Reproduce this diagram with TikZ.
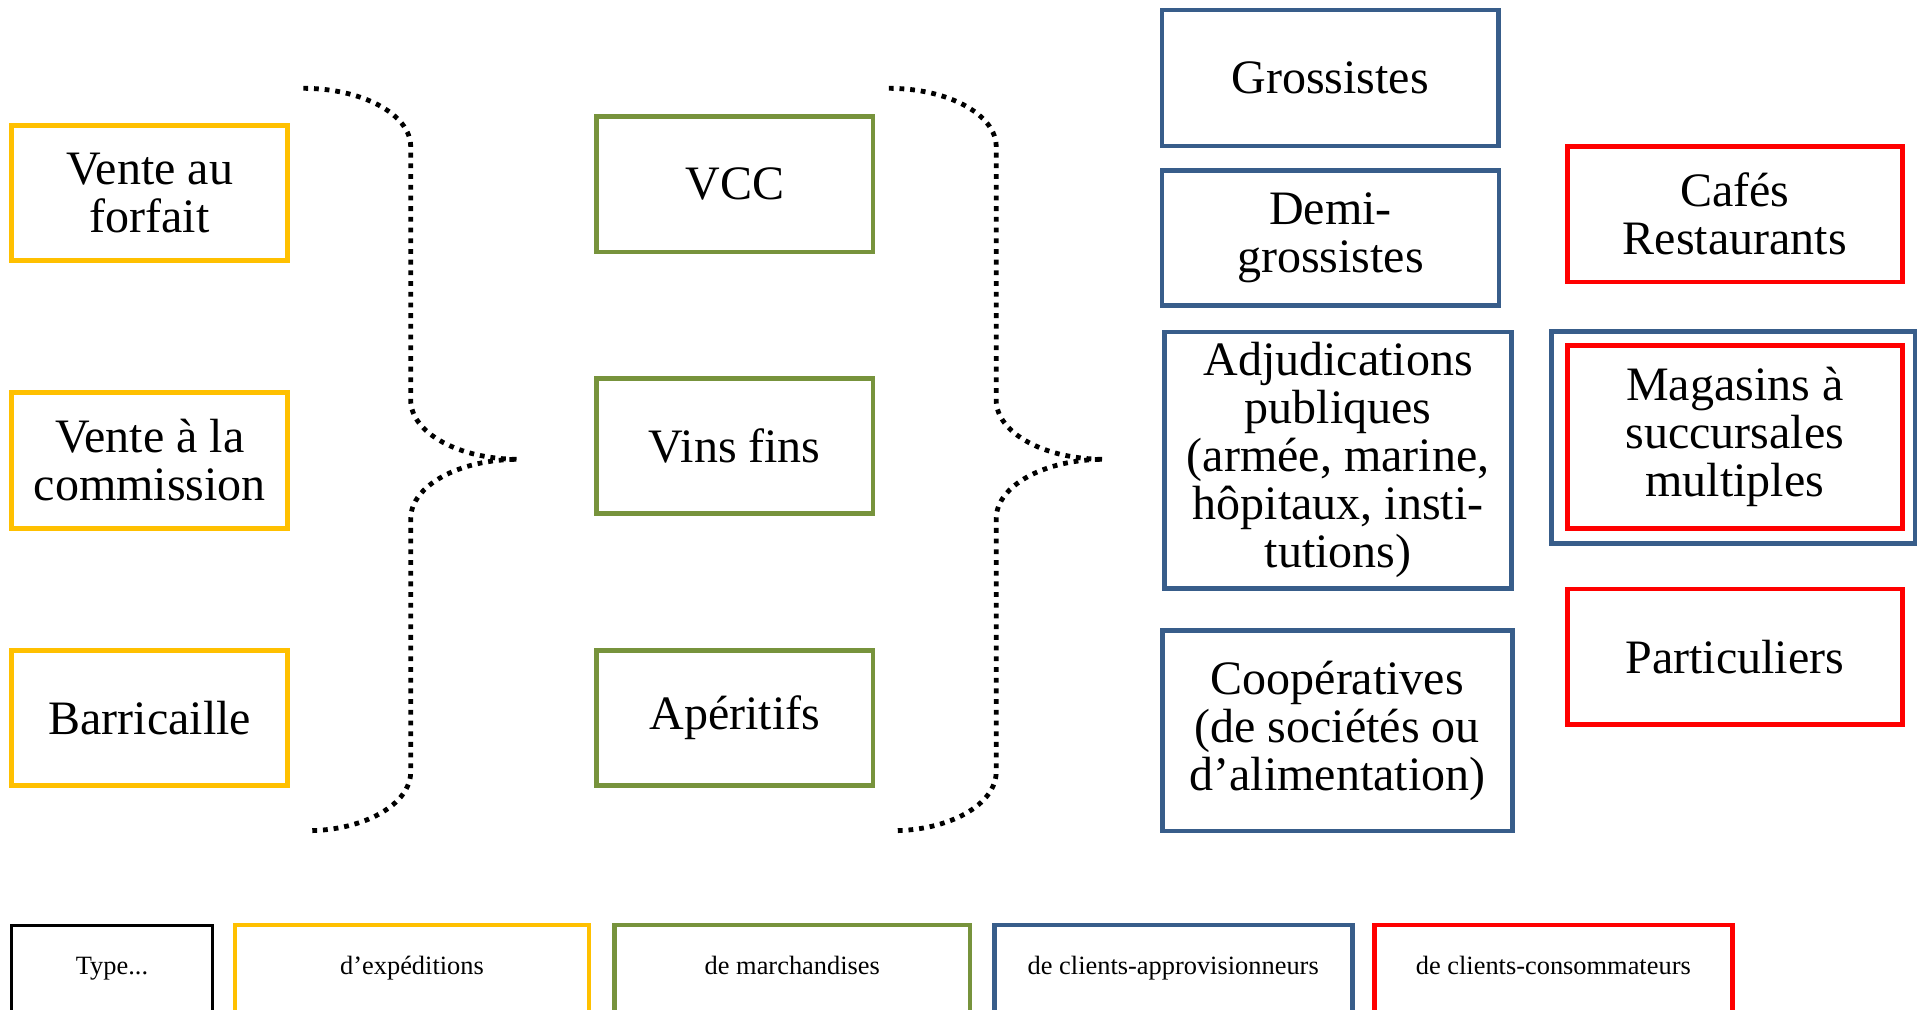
\documentclass[tikz,border=0pt]{standalone}
\usepackage{fontspec}
\setmainfont{Liberation Serif}
\definecolor{expcol}{HTML}{FFC000}
\definecolor{marcol}{HTML}{77933C}
\definecolor{appcol}{HTML}{385D8A}
\definecolor{concol}{HTML}{FF0000}
\tikzset{
  box/.style={draw, line width=2.4pt, inner sep=0pt, align=center, font=\fontsize{24}{24}\selectfont},
  expe/.style={box, draw=expcol, minimum width=138pt, minimum height=67.8pt},
  march/.style={box, draw=marcol, minimum width=138.2pt, minimum height=67.7pt},
  appro/.style={box, draw=appcol},
  conso/.style={box, draw=concol, minimum width=167.5pt},
  legend/.style={draw, line width=2.4pt, inner sep=0pt, minimum height=45pt, text height=9pt, text depth=5pt, font=\fontsize{13.2}{15}\selectfont},
  brace/.style={line width=2.4pt, dash pattern=on 2.4pt off 2.95pt}
}
\begin{document}
\begin{tikzpicture}[x=0.5pt,y=-0.5pt]
\useasboundingbox (0,0) rectangle (1917,1009);
% types d'expeditions
\node[expe] (forfait) at (149.7,192.9) {Vente au\\forfait};
\node[expe] (commission) at (149.7,460.5) {Vente à la\\commission};
\node[expe] (barricaille) at (149.7,718) {Barricaille};
% types de marchandises
\node[march] (vcc) at (734.8,184.3) {VCC};
\node[march] (vinsfins) at (734.8,445.8) {Vins fins};
\node[march] (aperitifs) at (734.8,718) {Apéritifs};
% clients-approvisionneurs
\node[appro, minimum width=168.2pt, minimum height=68pt] (grossistes) at (1330.2,78) {Grossistes};
\node[appro, minimum width=168.5pt, minimum height=67.8pt] (demigross) at (1330.5,238) {Demi-\\grossistes};
\node[appro, minimum width=173.6pt, minimum height=128.3pt] (adjudications) at (1338.1,460.3) {Adjudications\\publiques\\(armée, marine,\\hôpitaux, insti-\\tutions)};
\node[appro, minimum width=175.2pt, minimum height=100.2pt] (cooperatives) at (1337.3,730.8) {Coopératives\\(de sociétés ou\\d’alimentation)};
\node[appro, minimum width=181.6pt, minimum height=106pt] (magasinsbox) at (1733.4,437.7) {};
% clients-consommateurs
\node[conso, minimum height=67.7pt] (cafes) at (1734.8,214.3) {Cafés\\Restaurants};
\node[conso, minimum height=91.7pt] (magasins) at (1734.8,436.9) {Magasins à\\succursales\\multiples};
\node[conso, minimum height=67.8pt] (particuliers) at (1734.8,656.8) {Particuliers};
% accolades
\draw[brace] (303.3,88.3) .. controls (362.6,88.3) and (410.7,114.5) .. (410.7,146.7) -- (410.7,400)
  .. controls (410.7,432.7) and (458.9,459.3) .. (518.3,459.3)
  .. controls (458.9,459.3) and (410.7,485.9) .. (410.7,518.6) -- (410.7,771.7)
  .. controls (410.7,804.3) and (364.1,830.7) .. (306.7,830.7);
\draw[brace] (888.8,88.3) .. controls (948.1,88.3) and (996.2,114.5) .. (996.2,146.7) -- (996.2,400)
  .. controls (996.2,432.7) and (1044.4,459.3) .. (1103.8,459.3)
  .. controls (1044.4,459.3) and (996.2,485.9) .. (996.2,518.6) -- (996.2,771.7)
  .. controls (996.2,804.3) and (949.6,830.7) .. (892.2,830.7);
% legende
\node[legend, line width=1.5pt, minimum width=100.5pt] (type) at (112,970) {Type...};
\node[legend, draw=expcol, minimum width=177pt] (legexpe) at (412,970) {d’expéditions};
\node[legend, draw=marcol, minimum width=177.6pt] (legmarch) at (792.3,970) {de marchandises};
\node[legend, draw=appcol, minimum width=178.9pt] (legappro) at (1173.2,970) {de clients-approvisionneurs};
\node[legend, draw=concol, minimum width=178.8pt] (legconso) at (1553.3,970) {de clients-consommateurs};
\end{tikzpicture}
\end{document}
